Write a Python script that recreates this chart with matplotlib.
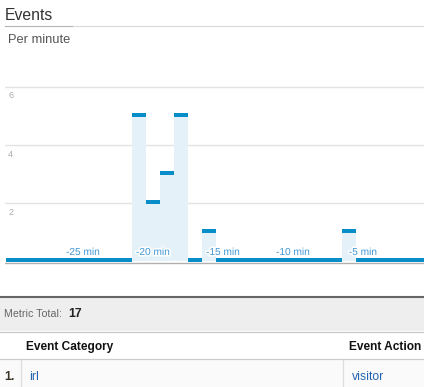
import matplotlib
matplotlib.use("Agg")
import matplotlib.pyplot as plt
import matplotlib.patheffects as pe
from matplotlib.patches import Rectangle
import numpy as np

plt.rcParams['font.family'] = ['Liberation Sans', 'DejaVu Sans']

# ---- data ----
minutes = list(range(-30, 0))            # one bar per minute
events = [0, 0, 0, 0, 0, 0, 0, 0, 0, 5,
          2, 3, 5, 0, 1, 0, 0, 0, 0, 0,
          0, 0, 0, 0, 1, 0, 0, 0, 0, 0]
tick_minutes = [-25, -20, -15, -10, -5]
tick_labels = ["-25 min", "-20 min", "-15 min", "-10 min", "-5 min"]
y_ticks = [2, 4, 6]
metric_total = sum(events)
col_headers = ["Event Category", "Event Action"]
row_values = ["irl", "visitor"]

W, H = 424, 387
fig = plt.figure(figsize=(W / 100, H / 100), dpi=100)
fig.patch.set_facecolor("white")

# ---- overlay axes in pixel coordinates ----
ov = fig.add_axes([0, 0, 1, 1])
ov.set_xlim(0, W)
ov.set_ylim(H, 0)
ov.axis("off")

# ---- chart axes ----
base_px = 261.0
top_px = 86.5
ppu = (base_px - top_px) / 6.0          # pixels per unit
ax_top_px, ax_bot_px = 80.0, 266.0
ax_left_px, ax_right_px = 5.0, 424.0
ax = fig.add_axes([ax_left_px / W, (H - ax_bot_px) / H,
                   (ax_right_px - ax_left_px) / W, (ax_bot_px - ax_top_px) / H])
ax.set_facecolor("none")
bar_px = 14.0
first_left_px = 6.0
x = np.array(minutes, dtype=float)
x0 = minutes[0]
xmin = x0 - 0.5 - (first_left_px - ax_left_px) / bar_px
ax.set_xlim(xmin, x0 - 0.5 + (ax_right_px - first_left_px) / bar_px)
ax.set_ylim(-(ax_bot_px - base_px) / ppu, 6 + (top_px - ax_top_px) / ppu)
for s in ax.spines.values():
    s.set_visible(False)
ax.set_xticks([])
ax.set_yticks([])

# gridlines
for yt in y_ticks:
    ax.axhline(yt, color="#e3e3e3", lw=1.0, zorder=0)
    ax.text(xmin + 3.2 / bar_px, yt - 12 / ppu, str(yt), color="#aaaaaa",
            fontsize=6.4, ha="left", va="baseline")

ev = np.array(events, dtype=float)
ax.bar(x, ev, width=1.0, color="#e5f1f8", zorder=1, linewidth=0)
ax.axhline(-1.6 / ppu, color="#b0b0b0", lw=1.0, zorder=2)
ax.bar(x, np.full_like(ev, 4.0 / ppu), bottom=ev - 1.2 / ppu, width=1.0,
       color="#078dc8", zorder=3, linewidth=0)

for tm, tl in zip(tick_minutes, tick_labels):
    t = ax.text(tm, 9.0 / ppu, tl, color="#3f96d3", fontsize=7.3,
                ha="center", va="center", zorder=4)
    t.set_path_effects([pe.withStroke(linewidth=2.2, foreground="white")])

# ---- header ----
ov.text(5, 19.5, "Events", color="#333333", fontsize=11.3, va="baseline", ha="left")
ov.plot([5, 73], [26, 26], color="#b4b4b4", lw=0.8)
ov.plot([73, 424], [26, 26], color="#dadada", lw=0.8)
ov.text(8, 43.3, "Per minute", color="#555555", fontsize=9.3, va="baseline", ha="left")

# ---- table ----
ov.add_patch(Rectangle((0, 297), W, 34, color="#eeeeee", lw=0))
ov.plot([0, W], [296.5, 296.5], color="#666666", lw=1.5)
ov.plot([0, W], [331.5, 331.5], color="#c8c8c8", lw=0.9)
ov.text(4, 316.7, "Metric Total:", color="#666666", fontsize=7.7, va="baseline")
ov.text(68, 316.7, str(metric_total), color="#222222", fontsize=8.9,
        fontweight="bold", va="baseline")
ov.text(26.5, 350, col_headers[0], color="#111111", fontsize=8.6,
        fontweight="bold", va="baseline")
ov.text(349.3, 350, col_headers[1], color="#111111", fontsize=8.6,
        fontweight="bold", va="baseline")
ov.plot([0, W], [359, 359], color="#cccccc", lw=0.9)
ov.add_patch(Rectangle((0, 359.5), W, 28, color="#fafafa", lw=0))
ov.plot([20.5, 20.5], [359.5, H], color="#dddddd", lw=0.9)
ov.plot([343.3, 343.3], [359.5, H], color="#dddddd", lw=0.9)
ov.text(4, 380, "1.", color="#3a3226", fontsize=8.8, fontweight="bold", va="baseline")
ov.text(29.3, 380, row_values[0], color="#2463b0", fontsize=8.8, va="baseline")
ov.text(351.5, 380, row_values[1], color="#2463b0", fontsize=8.8, va="baseline")

fig.savefig("out.png", dpi=100, facecolor="white")
